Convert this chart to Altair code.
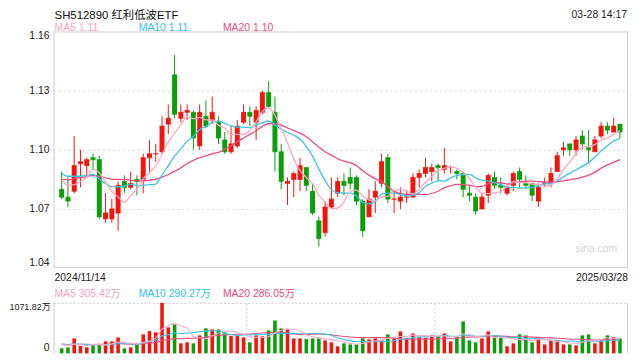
import altair as alt
import pandas as pd

# ---------------- data ----------------
opens = [1.080, 1.076, 1.079, 1.093, 1.092, 1.096, 1.095, 1.065, 1.065, 1.068,
         1.084, 1.081, 1.085, 1.085, 1.096, 1.098, 1.099, 1.113, 1.138, 1.116,
         1.119, 1.119, 1.102, 1.117, 1.115, 1.114, 1.105, 1.099, 1.102, 1.114,
         1.119, 1.114, 1.119, 1.129, 1.119, 1.099, 1.083, 1.085, 1.085, 1.091,
         1.079, 1.064, 1.058, 1.071, 1.078, 1.084, 1.086, 1.086, 1.074, 1.066,
         1.076, 1.083, 1.096, 1.075, 1.074, 1.076, 1.076, 1.086, 1.088, 1.089,
         1.092, 1.090, 1.091, 1.089, 1.088, 1.078, 1.076, 1.070, 1.077, 1.086,
         1.082, 1.078, 1.082, 1.089, 1.083, 1.083, 1.074, 1.083, 1.083, 1.089,
         1.100, 1.103, 1.100, 1.107, 1.101, 1.099, 1.107, 1.112, 1.109, 1.113]
highs = [1.089, 1.086, 1.107, 1.100, 1.096, 1.098, 1.097, 1.078, 1.075, 1.084,
         1.087, 1.089, 1.087, 1.098, 1.105, 1.103, 1.117, 1.123, 1.148, 1.123,
         1.123, 1.120, 1.123, 1.125, 1.127, 1.117, 1.109, 1.112, 1.115, 1.123,
         1.122, 1.122, 1.130, 1.135, 1.127, 1.103, 1.086, 1.089, 1.096, 1.091,
         1.083, 1.066, 1.074, 1.086, 1.086, 1.088, 1.091, 1.087, 1.075, 1.080,
         1.084, 1.098, 1.098, 1.079, 1.081, 1.079, 1.088, 1.090, 1.096, 1.093,
         1.093, 1.101, 1.092, 1.090, 1.089, 1.082, 1.078, 1.078, 1.088, 1.089,
         1.086, 1.082, 1.089, 1.091, 1.087, 1.083, 1.083, 1.086, 1.091, 1.099,
         1.104, 1.103, 1.107, 1.110, 1.110, 1.107, 1.114, 1.114, 1.116, 1.113]
lows = [1.075, 1.071, 1.078, 1.081, 1.087, 1.090, 1.065, 1.063, 1.063, 1.059,
        1.078, 1.080, 1.077, 1.078, 1.089, 1.094, 1.098, 1.108, 1.116, 1.114,
        1.115, 1.100, 1.100, 1.111, 1.113, 1.103, 1.098, 1.098, 1.101, 1.113,
        1.112, 1.105, 1.118, 1.121, 1.089, 1.080, 1.072, 1.076, 1.079, 1.079,
        1.067, 1.051, 1.056, 1.070, 1.076, 1.077, 1.080, 1.072, 1.056, 1.066,
        1.068, 1.081, 1.073, 1.068, 1.070, 1.073, 1.076, 1.081, 1.086, 1.084,
        1.084, 1.088, 1.088, 1.085, 1.076, 1.074, 1.067, 1.070, 1.073, 1.080,
        1.078, 1.077, 1.079, 1.081, 1.080, 1.074, 1.071, 1.081, 1.081, 1.089,
        1.097, 1.097, 1.097, 1.100, 1.094, 1.099, 1.106, 1.108, 1.109, 1.106]
closes = [1.076, 1.074, 1.092, 1.094, 1.095, 1.095, 1.066, 1.068, 1.070, 1.082,
          1.081, 1.083, 1.084, 1.096, 1.098, 1.098, 1.112, 1.116, 1.118, 1.119,
          1.120, 1.106, 1.119, 1.112, 1.119, 1.106, 1.099, 1.103, 1.112, 1.119,
          1.117, 1.120, 1.129, 1.122, 1.099, 1.084, 1.084, 1.088, 1.092, 1.082,
          1.068, 1.055, 1.071, 1.075, 1.084, 1.082, 1.083, 1.074, 1.059, 1.075,
          1.079, 1.094, 1.075, 1.075, 1.076, 1.076, 1.086, 1.088, 1.091, 1.091,
          1.091, 1.092, 1.091, 1.088, 1.080, 1.077, 1.069, 1.076, 1.087, 1.082,
          1.081, 1.081, 1.088, 1.085, 1.082, 1.077, 1.081, 1.083, 1.088, 1.097,
          1.101, 1.100, 1.105, 1.103, 1.100, 1.105, 1.112, 1.110, 1.112, 1.109]
volumes = [106, 127, 317, 155, 127, 176, 183, 254, 254, 338,
           106, 127, 190, 402, 472, 444, 1071.82, 550, 613, 212,
           233, 212, 381, 529, 508, 508, 444, 367, 374, 338,
           233, 381, 360, 486, 698, 529, 508, 317, 317, 303,
           317, 331, 275, 233, 148, 212, 190, 190, 317, 296,
           317, 275, 402, 331, 465, 317, 423, 345, 331, 381,
           360, 423, 254, 345, 677, 275, 233, 317, 465, 360,
           338, 148, 212, 402, 381, 233, 296, 190, 275, 254,
           190, 190, 169, 381, 402, 212, 275, 381, 338, 317]
# sessions before the first visible day (inferred from where the MA lines start)
prior_closes = [1.078, 1.080, 1.083, 1.085, 1.082, 1.080, 1.081, 1.084, 1.083, 1.084,
                1.088, 1.092, 1.094, 1.091, 1.090, 1.089, 1.090, 1.087, 1.083]
prior_volumes = [170, 195, 160, 210, 180, 175, 200, 185, 165, 190,
                 220, 190, 215, 185, 210, 230, 200, 195, 219]

price_ticks = [1.04, 1.07, 1.10, 1.13, 1.16]
vol_ticks = [0, 1071.82]
vol_tick_labels = ["0", "1071.82万"]
title_text = "SH512890 红利低波ETF"
time_text = "03-28 14:17"
date_labels = ["2024/11/14", "2025/03/28"]
ma_labels = ["MA5 1.11", "MA10 1.11", "MA20 1.10"]
vol_ma_labels = ["MA5 305.42万", "MA10 290.27万", "MA20 286.05万"]
watermark = "sina.com"

# ---------------- styling ----------------
RED = "#f2140d"
GREEN = "#0a9e0a"
MA_COLORS = ["#ffa6c4", "#38c6e4", "#ee4a7f"]
LABEL_COLORS = ["#f9a3c3", "#2fbfe0", "#ee4a7f"]
FONT = "Liberation Sans, Arial, Noto Sans CJK SC"
FRAME = "#cfcfcf"
GRID = "#dedede"
W = 580

n = len(closes)
npre = len(prior_closes)
cdf = pd.DataFrame({
    "idx": list(range(n)),
    "open": opens, "high": highs, "low": lows, "close": closes, "vol": volumes,
    "base": [0] * n,
})
cdf["dir"] = ["up" if c >= o else "down" for o, c in zip(opens, closes)]
mdf = pd.DataFrame({
    "idx": list(range(-npre, n)),
    "close": prior_closes + closes,
    "vol": prior_volumes + volumes,
})

xs = alt.Scale(domain=[-0.5, n - 0.5], nice=False, zero=False)
X = alt.X("idx:Q", scale=xs, axis=None)
pscale = alt.Scale(domain=[price_ticks[0], price_ticks[-1]], range=[239, 0], nice=False, zero=False)
vscale = alt.Scale(domain=[vol_ticks[0], vol_ticks[-1]], range=[325, 274], nice=False, zero=False)
col = alt.Color("dir:N", scale=alt.Scale(domain=["up", "down"], range=[RED, GREEN]), legend=None)

base = alt.Chart(cdf)


def hrule(values, scale, **kw):
    return alt.Chart(pd.DataFrame({"v": values})).mark_rule(**kw).encode(
        y=alt.Y("v:Q", scale=scale, axis=None), x=alt.value(0), x2=alt.value(W))


def vrule(xpix, lo, hi, scale, **kw):
    return alt.Chart(pd.DataFrame({"lo": [lo], "hi": [hi]})).mark_rule(**kw).encode(
        x=alt.value(xpix), y=alt.Y("lo:Q", scale=scale, axis=None), y2="hi:Q")


def tick_text(values, labels, scale, baseline, size=10.5, dx=-4):
    return alt.Chart(pd.DataFrame({"v": values, "t": labels})).mark_text(
        align="right", baseline=baseline, dx=dx, fontSize=size, font=FONT, color="#222"
    ).encode(y=alt.Y("v:Q", scale=scale, axis=None), x=alt.value(0), text="t:N")


def txt(s, x, y, size=10.5, color="#222", align="left"):
    return alt.Chart(pd.DataFrame({"t": [s]})).mark_text(
        align=align, baseline="alphabetic", fontSize=size, font=FONT, color=color
    ).encode(text="t:N", x=alt.value(x), y=alt.value(y))


# ---- price panel ----
p_lab = [f"{v:.2f}" for v in price_ticks]
p_grid = hrule(price_ticks[1:-1], pscale, strokeDash=[2, 3], color=GRID, strokeWidth=1.2, yOffset=0.5)
p_top = hrule([price_ticks[-1]], pscale, color=FRAME, yOffset=0.5)
p_bot = hrule([price_ticks[0]], pscale, color=FRAME, yOffset=-0.5)
p_left = vrule(0.5, price_ticks[0], price_ticks[-1], pscale, color=FRAME)
p_right = vrule(W - 0.5, price_ticks[0], price_ticks[-1], pscale, color=FRAME)
p_t_mid = tick_text(price_ticks[1:-1], p_lab[1:-1], pscale, "middle")
p_t_top = tick_text([price_ticks[-1]], [p_lab[-1]], pscale, "top")
p_t_bot = tick_text([price_ticks[0]], [p_lab[0]], pscale, "bottom")

wicks = base.mark_rule(strokeWidth=1).encode(
    x=X, y=alt.Y("low:Q", scale=pscale, axis=None), y2="high:Q", color=col)
bodies = base.mark_bar(size=5).encode(
    x=X, y=alt.Y("open:Q", scale=pscale, axis=None), y2="close:Q", color=col)
tick_o = base.mark_tick(orient="horizontal", size=5, thickness=1).encode(
    x=X, y=alt.Y("open:Q", scale=pscale, axis=None), color=col)
tick_c = base.mark_tick(orient="horizontal", size=5, thickness=1).encode(
    x=X, y=alt.Y("close:Q", scale=pscale, axis=None), color=col)

ma_base = (alt.Chart(mdf)
           .transform_window(ma5="mean(close)", frame=[-4, 0], sort=[alt.SortField("idx")])
           .transform_window(ma10="mean(close)", frame=[-9, 0], sort=[alt.SortField("idx")])
           .transform_window(ma20="mean(close)", frame=[-19, 0], sort=[alt.SortField("idx")])
           .transform_window(vma5="mean(vol)", frame=[-4, 0], sort=[alt.SortField("idx")])
           .transform_window(vma10="mean(vol)", frame=[-9, 0], sort=[alt.SortField("idx")])
           .transform_window(vma20="mean(vol)", frame=[-19, 0], sort=[alt.SortField("idx")])
           .transform_filter("datum.idx >= 0"))

ma_lines = [ma_base.mark_line(interpolate="monotone", strokeWidth=1.3, color=c).encode(
    x=X, y=alt.Y(f"{f}:Q", scale=pscale, axis=None))
    for f, c in zip(["ma20", "ma10", "ma5"], MA_COLORS[::-1])]

texts = [
    txt(title_text, 1, -13, size=11.5, color="#111"),
    txt(time_text, 579, -13.5, color="#222", align="right"),
    txt(ma_labels[0], 1, -0.7, color=LABEL_COLORS[0]),
    txt(ma_labels[1], 86, -0.7, color=LABEL_COLORS[1]),
    txt(ma_labels[2], 171, -0.7, color=LABEL_COLORS[2]),
    txt(date_labels[0], 1, 251.5, color="#222"),
    txt(date_labels[1], 580, 251.5, color="#222", align="right"),
    txt(vol_ma_labels[0], 1, 268, color=LABEL_COLORS[0]),
    txt(vol_ma_labels[1], 86, 268, color=LABEL_COLORS[1]),
    txt(vol_ma_labels[2], 171, 268, color=LABEL_COLORS[2]),
    txt(watermark, 569, 223, size=10.5, color="#d6d6d6", align="right"),
]

price_layer = alt.layer(p_grid, p_top, p_bot, p_left, p_right, p_t_mid, p_t_top, p_t_bot,
                        wicks, bodies, tick_o, tick_c, *ma_lines, *texts)

# ---- volume panel ----
v_top = hrule([vol_ticks[-1]], vscale, strokeDash=[2, 2], color="#cccccc", yOffset=0.5)
v_left = vrule(0.5, vol_ticks[0], vol_ticks[-1], vscale, color=FRAME)
v_right = vrule(W - 0.5, vol_ticks[0], vol_ticks[-1], vscale, color=FRAME)
v_t_top = tick_text([vol_ticks[-1]], [vol_tick_labels[-1]], vscale, "top", size=9, dx=-3)
v_t_bot = tick_text([vol_ticks[0]], [vol_tick_labels[0]], vscale, "bottom")
vgrid = alt.Chart(pd.DataFrame({"g": [(n / 3) - 0.5, (2 * n / 3) - 0.5],
                                "lo": [vol_ticks[0]] * 2, "hi": [vol_ticks[-1]] * 2})
                  ).mark_rule(strokeDash=[2, 2], color="#cccccc").encode(
    x=alt.X("g:Q", scale=xs, axis=None),
    y=alt.Y("lo:Q", scale=vscale, axis=None), y2="hi:Q")
vbars = base.mark_bar(size=3.6).encode(
    x=X, y=alt.Y("vol:Q", scale=vscale, axis=None), y2="base:Q", color=col)
vma_lines = [ma_base.mark_line(interpolate="monotone", strokeWidth=1.1, color=c).encode(
    x=X, y=alt.Y(f"{f}:Q", scale=vscale, axis=None))
    for f, c in zip(["vma20", "vma10", "vma5"], MA_COLORS[::-1])]

vol_layer = alt.layer(v_top, vgrid, v_left, v_right, v_t_top, v_t_bot, vbars, *vma_lines)

chart = alt.layer(price_layer, vol_layer).resolve_scale(y="independent").properties(
    width=W, height=325,
    autosize=alt.AutoSizeParams(type="none"),
    padding={"left": 46, "top": 22, "right": 4, "bottom": 0},
).configure_view(stroke=None)

chart.save("out.html", embed_options={"renderer": "svg", "actions": False})
